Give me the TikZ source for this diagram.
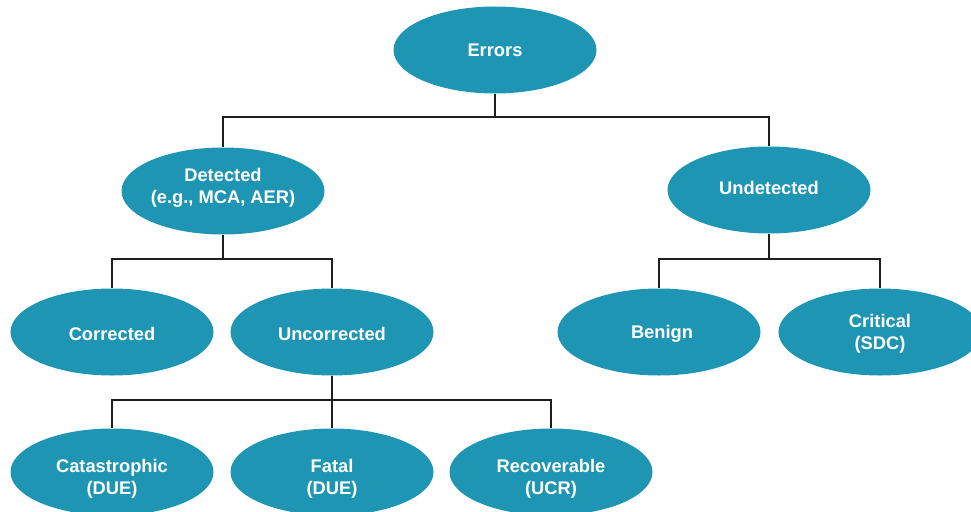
\documentclass[tikz,border=0pt]{standalone}
\usepackage{fontspec}
\setmainfont{Liberation Sans}
\usetikzlibrary{shapes.geometric}
\definecolor{nodeteal}{RGB}{30,149,179}
\definecolor{linkdark}{RGB}{30,30,30}
\begin{document}
\begin{tikzpicture}[x=1pt,y=-1pt,
  bubble/.style={ellipse,fill=nodeteal,minimum width=203pt,minimum height=87pt,inner sep=0pt},
  caption/.style={text=white,font=\bfseries\fontsize{18.3}{22}\selectfont,align=center,inner sep=0pt},
  link/.style={draw=linkdark,line width=2pt}]
\useasboundingbox (0,0) rectangle (971,511);
% ellipses
\node[bubble] (err) at (495,50) {};
\node[bubble] (det) at (223,191) {};
\node[bubble] (und) at (769,190) {};
\node[bubble] (cor) at (112,332) {};
\node[bubble] (unc) at (332,332) {};
\node[bubble] (ben) at (659,332) {};
\node[bubble] (cri) at (880,332) {};
\node[bubble] (cat) at (112,472) {};
\node[bubble] (fat) at (332,472) {};
\node[bubble] (rec) at (551,472) {};
% captions
\node[caption] (errT) at (495,50) {Errors};
\node[caption] (detT) at (223,188) {Detected\\(e.g., MCA, AER)};
\node[caption] (undT) at (769,188) {Undetected};
\node[caption] (corT) at (112,334) {Corrected};
\node[caption] (uncT) at (332,334) {Uncorrected};
\node[caption] (benT) at (662,334) {Benign};
\node[caption] (criT) at (880,334) {Critical\\(SDC)};
\node[caption] (catT) at (112,479) {Catastrophic\\(DUE)};
\node[caption] (fatT) at (332,479) {Fatal\\(DUE)};
\node[caption] (recT) at (551,479) {Recoverable\\(UCR)};
% junctions
\coordinate (j0) at (495,117);
\coordinate (j1) at (223,259);
\coordinate (j2) at (769,259);
\coordinate (j3) at (332,400);
% connectors
\draw[link] (err.south) -- (j0);
\draw[link] (j0) -| (det.north);
\draw[link] (j0) -| (und.north);
\draw[link] (det.south) -- (j1);
\draw[link] (j1) -| (cor.north);
\draw[link] (j1) -| (unc.north);
\draw[link] (und.south) -- (j2);
\draw[link] (j2) -| (ben.north);
\draw[link] (j2) -| (cri.north);
\draw[link] (unc.south) -- (j3);
\draw[link] (j3) -| (cat.north);
\draw[link] (j3) -| (fat.north);
\draw[link] (j3) -| (rec.north);
\end{tikzpicture}
\end{document}
